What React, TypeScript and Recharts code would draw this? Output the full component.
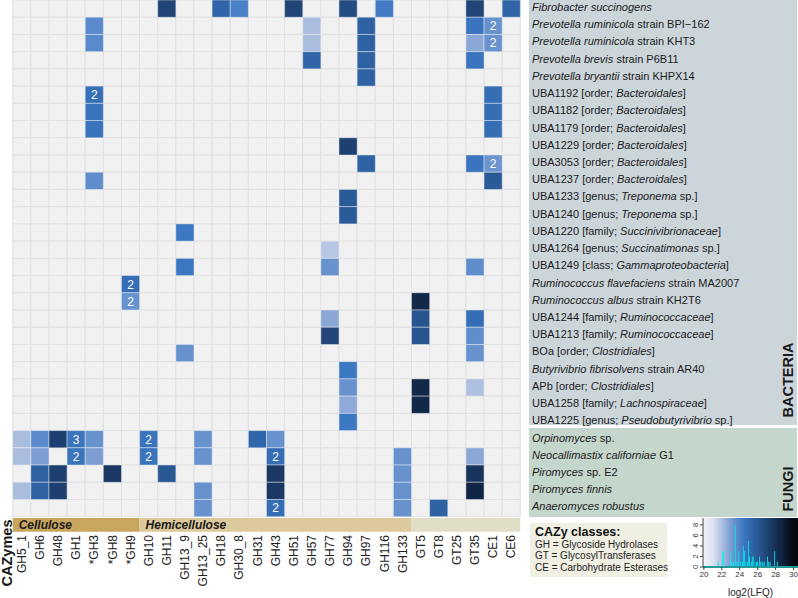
import React from "react";
import {
  ScatterChart,
  Scatter,
  XAxis,
  YAxis,
  ReferenceArea,
  ComposedChart,
  Bar,
  ReferenceLine,
} from "recharts";

const FONT = '"Liberation Sans", Arial, Helvetica, sans-serif';

const cazymes = [
  "GH5_1", "GH6", "GH48", "GH1", "*GH3", "*GH8", "*GH9", "GH10", "GH11", "GH13_9",
  "GH13_25", "GH18", "GH30_8", "GH31", "GH43", "GH51", "GH57", "GH77", "GH94", "GH97",
  "GH116", "GH133", "GT5", "GT8", "GT25", "GT35", "CE1", "CE6",
];

// label pieces: [text, italic]
type Piece = [string, boolean];
const bacteria: Piece[][] = [
  [["Fibrobacter succinogens", true]],
  [["Prevotella ruminicola", true], [" strain BPI\u2212162", false]],
  [["Prevotella ruminicola", true], [" strain KHT3", false]],
  [["Prevotella brevis", true], [" strain P6B11", false]],
  [["Prevotella bryantii", true], [" strain KHPX14", false]],
  [["UBA1192 [order; ", false], ["Bacteroidales", true], ["]", false]],
  [["UBA1182 [order; ", false], ["Bacteroidales", true], ["]", false]],
  [["UBA1179 [order; ", false], ["Bacteroidales", true], ["]", false]],
  [["UBA1229 [order; ", false], ["Bacteroidales", true], ["]", false]],
  [["UBA3053 [order; ", false], ["Bacteroidales", true], ["]", false]],
  [["UBA1237 [order; ", false], ["Bacteroidales", true], ["]", false]],
  [["UBA1233 [genus; ", false], ["Treponema", true], [" sp.]", false]],
  [["UBA1240 [genus; ", false], ["Treponema", true], [" sp.]", false]],
  [["UBA1220 [family; ", false], ["Succinivibrionaceae", true], ["]", false]],
  [["UBA1264 [genus; ", false], ["Succinatimonas", true], [" sp.]", false]],
  [["UBA1249 [class; ", false], ["Gammaproteobacteria", true], ["]", false]],
  [["Ruminococcus flavefaciens", true], [" strain MA2007", false]],
  [["Ruminococcus albus", true], [" strain KH2T6", false]],
  [["UBA1244 [family; ", false], ["Ruminococcaceae", true], ["]", false]],
  [["UBA1213 [family; ", false], ["Ruminococcaceae", true], ["]", false]],
  [["BOa [order; ", false], ["Clostridiales", true], ["]", false]],
  [["Butyrivibrio fibrisolvens", true], [" strain AR40", false]],
  [["APb [order; ", false], ["Clostridiales", true], ["]", false]],
  [["UBA1258 [family; ", false], ["Lachnospiraceae", true], ["]", false]],
  [["UBA1225 [genus; ", false], ["Pseudobutyrivibrio", true], [" sp.]", false]],
];
const fungi: Piece[][] = [
  [["Orpinomyces", true], [" sp.", false]],
  [["Neocallimastix californiae", true], [" G1", false]],
  [["Piromyces", true], [" sp. E2", false]],
  [["Piromyces finnis", true]],
  [["Anaeromyces robustus", true]],
];
const taxa = [...bacteria, ...fungi];

const substrateGroups = [
  { name: "Cellulose", from: "GH5_1", to: "*GH9", color: "#c9a65e" },
  { name: "Hemicellulose", from: "GH10", to: "GH133", color: "#dcc99c" },
  { name: "", from: "GT5", to: "CE6", color: "#e1dec7" },
];

// [row, CAZyme, log2(LFQ), proteins (if more than one)]
const cells: [number, string, number, number?][] = [
  [0, "GH11", 27.0], [0, "GH18", 25.3], [0, "GH30_8", 24.1], [0, "GH51", 27.0],
  [0, "GH94", 26.6], [0, "GH116", 24.3], [0, "GT35", 27.0], [0, "CE6", 25.3],
  [1, "*GH3", 23.7], [1, "GH57", 22.05], [1, "GH97", 25.5], [1, "GT35", 24.6], [1, "CE1", 23.4, 2],
  [2, "*GH3", 23.7], [2, "GH57", 22.05], [2, "GH97", 25.5], [2, "GT35", 22.7], [2, "CE1", 23.4, 2],
  [3, "GH57", 25.3], [3, "GH97", 25.5], [3, "GT35", 24.6],
  [4, "GH97", 25.5],
  [5, "*GH3", 24.8, 2], [5, "CE1", 24.9],
  [6, "*GH3", 24.6], [6, "CE1", 24.9],
  [7, "*GH3", 24.6], [7, "CE1", 24.9],
  [8, "GH94", 27.2],
  [9, "GH97", 25.5], [9, "GT35", 24.6], [9, "CE1", 23.3, 2],
  [10, "*GH3", 23.6], [10, "CE1", 25.9],
  [11, "GH94", 25.9],
  [12, "GH94", 25.9],
  [13, "GH13_9", 24.45],
  [14, "GH77", 21.8],
  [15, "GH13_9", 24.45], [15, "GH77", 23.4], [15, "GT35", 23.6],
  [16, "*GH9", 24.9, 2],
  [17, "*GH9", 23.4, 2], [17, "GT5", 28.4],
  [18, "GH77", 22.7], [18, "GT5", 26.2], [18, "GT35", 24.9],
  [19, "GH77", 27.0], [19, "GT5", 26.2], [19, "GT35", 23.6],
  [20, "GH13_9", 23.4], [20, "GT35", 23.4],
  [21, "GH94", 24.45],
  [22, "GH94", 23.4], [22, "GT5", 28.4], [22, "GT35", 22.0],
  [23, "GH94", 22.6], [23, "GT5", 28.4],
  [24, "GH94", 24.45],
  [25, "GH5_1", 22.05], [25, "GH6", 23.7], [25, "GH48", 27.2], [25, "GH1", 24.6, 3], [25, "*GH3", 23.4],
  [25, "GH10", 24.6, 2], [25, "GH13_25", 23.4], [25, "GH31", 25.3], [25, "GH43", 23.4],
  [26, "GH5_1", 22.05], [26, "GH6", 22.95], [26, "GH1", 24.6, 2], [26, "*GH3", 22.95], [26, "GH10", 24.6, 2],
  [26, "GH13_25", 23.4], [26, "GH43", 24.9, 2], [26, "GH133", 23.4], [26, "GT35", 22.7],
  [27, "GH6", 25.5], [27, "GH48", 27.2], [27, "*GH8", 27.6], [27, "GH11", 26.1], [27, "GH43", 27.6],
  [27, "GH133", 23.4], [27, "GT35", 27.8],
  [28, "GH5_1", 22.05], [28, "GH6", 25.5], [28, "GH48", 27.2], [28, "GH13_25", 23.4], [28, "GH43", 27.6],
  [28, "GH133", 23.4], [28, "GT35", 28.5],
  [29, "GH13_25", 23.4], [29, "GH43", 24.9, 2], [29, "GH133", 23.4], [29, "GT8", 25.5],
];

// colour key
const lfqStops = [20, 21, 22, 23, 23.7, 24.5, 25.5, 26.5, 27.5, 28.5, 30];
const lfqColors = ["#f3f3f9", "#dce2f0", "#aebfe0", "#7a9cd2", "#5a8acb", "#3a76c0", "#2e62a3", "#254f86", "#1b3a66", "#112646", "#04070e"];

// histogram in the colour key
const lfqBins = [21.6, 22.1, 22.2, 23.0, 23.1, 23.3, 23.5, 23.6, 23.8, 23.9, 24.1, 24.3, 24.4, 24.55, 24.7, 24.9, 25.0, 25.1, 25.3, 25.4, 25.5, 25.7, 25.9, 26.0, 26.2, 26.3, 26.5, 26.6, 26.8, 27.1, 27.2, 27.4, 27.9, 28.2];
const lfqCounts = [1, 3, 3, 3, 1, 1, 8, 1, 1, 3, 1, 1, 4, 3, 1, 1, 5, 2, 1, 2, 2, 1, 1, 1, 2, 1, 1, 1, 1, 2, 1, 1, 3, 1];

const classNotes = [
  "GH = Glycoside Hydrolases",
  "GT = GlycosylTransferases",
  "CE = Carbohydrate Esterases",
];

const hex = (c: string) => [1, 3, 5].map((i) => parseInt(c.slice(i, i + 2), 16));
function lfqColor(v: number) {
  let i = 0;
  while (i < lfqStops.length - 2 && v > lfqStops[i + 1]) i++;
  const t = Math.max(0, Math.min(1, (v - lfqStops[i]) / (lfqStops[i + 1] - lfqStops[i])));
  const a = hex(lfqColors[i]);
  const b = hex(lfqColors[i + 1]);
  return `rgb(${a.map((x, k) => Math.round(x + (b[k] - x) * t)).join(",")})`;
}

const W = 798;
const H = 598;
const PLOT_L = 12.7;
const PLOT_R = 520.3;
const PLOT_B = 516.7;
const CELL_W = (PLOT_R - PLOT_L) / cazymes.length;
const CELL_H = PLOT_B / taxa.length;

const bgData = taxa.flatMap((_, r) => cazymes.map((_, c) => ({ x: c, y: r })));
const heatData = cells.map(([r, c, v, n]) => ({ x: cazymes.indexOf(c), y: r, v, n }));
const histData = lfqBins.map((x, i) => ({ x, n: lfqCounts[i] }));

const BgCell = (p: any) => (
  <rect x={p.cx - CELL_W / 2} y={p.cy - CELL_H / 2} width={CELL_W} height={CELL_H} fill="#f1f1f1" stroke="#e1e1e1" strokeWidth={1} />
);

const HeatCell = (p: any) => (
  <g>
    <rect
      x={p.cx - CELL_W / 2}
      y={p.cy - CELL_H / 2}
      width={CELL_W}
      height={CELL_H}
      fill={lfqColor(p.payload.v)}
      stroke="#ffffff"
      strokeOpacity={0.4}
      strokeWidth={1}
    />
    {p.payload.n ? (
      <text x={p.cx} y={p.cy} dy="0.36em" textAnchor="middle" fill="#ffffff" fontSize={12} fontFamily={FONT}>
        {p.payload.n}
      </text>
    ) : null}
  </g>
);

const TaxonTick = (p: any) => {
  const parts = taxa[p.payload.value];
  if (!parts) return null;
  return (
    <text x={532} y={p.y - 1.5} dy="0.35em" fontSize={11} fontFamily={FONT} fill="#1a1a1a" style={{ whiteSpace: "pre" }}>
      {parts.map(([t, it], i) => (
        <tspan key={i} fontStyle={it ? "italic" : "normal"}>{t}</tspan>
      ))}
    </text>
  );
};

const CazyTick = (p: any) => {
  const y = 535;
  return (
    <text x={p.x} y={y} dy="0.35em" textAnchor="end" transform={`rotate(-90, ${p.x}, ${y})`} fontSize={12} fill="#222" fontFamily={FONT}>
      {cazymes[p.payload.value]}
    </text>
  );
};

const CountTick = (p: any) => (
  <text x={p.x - 3} y={p.y} dy="0.35em" textAnchor="middle" transform={`rotate(-90, ${p.x - 3}, ${p.y})`} fontSize={7.5} fill="#333" fontFamily={FONT}>
    {p.payload.value}
  </text>
);

export default function App() {
  const nRows = taxa.length;
  return (
    <div style={{ position: "absolute", left: 0, top: 0, width: W, height: H, background: "#ffffff", fontFamily: FONT }}>
      <div style={{ position: "absolute", left: 529, top: 0, width: 268, height: 425, background: "#ccd5da" }} />
      <div style={{ position: "absolute", left: 529, top: 428, width: 268, height: 89, background: "#c5d6cc" }} />

      <div style={{ position: "absolute", left: 0, top: 0 }}>
        <ScatterChart width={W} height={H} margin={{ top: 0, right: 0, bottom: 0, left: PLOT_L }}>
          <XAxis
            type="number"
            dataKey="x"
            domain={[-0.5, cazymes.length - 0.5]}
            ticks={cazymes.map((_, i) => i)}
            interval={0}
            tick={<CazyTick />}
            axisLine={false}
            tickLine={false}
            height={H - PLOT_B}
          />
          <YAxis
            type="number"
            dataKey="y"
            orientation="right"
            reversed
            domain={[-0.5, nRows - 0.5]}
            ticks={taxa.map((_, i) => i)}
            interval={0}
            tick={<TaxonTick />}
            axisLine={false}
            tickLine={false}
            width={W - PLOT_R}
          />
          <Scatter data={bgData} shape={<BgCell />} isAnimationActive={false} />
          <Scatter data={heatData} shape={<HeatCell />} isAnimationActive={false} />
          {substrateGroups.map((g) => (
            <ReferenceArea
              key={g.from}
              x1={cazymes.indexOf(g.from) - 0.5}
              x2={cazymes.indexOf(g.to) + 0.5}
              y1={nRows - 0.42}
              y2={nRows + 0.37}
              ifOverflow="visible"
              fill={g.color}
              fillOpacity={1}
              stroke="none"
              label={{
                value: g.name,
                position: "insideLeft",
                offset: 6,
                fontSize: 12,
                fontWeight: 700,
                fontStyle: "italic",
                fill: "#1a1a1a",
                fontFamily: FONT,
              }}
            />
          ))}
        </ScatterChart>
      </div>

      <svg width={W} height={H} style={{ position: "absolute", left: 0, top: 0, pointerEvents: "none" }}>
        <text x={788} y={380} dy="0.35em" textAnchor="middle" transform="rotate(-90, 788, 380)" fontSize={14.5} fontWeight={700} fill="#1a1a1a" fontFamily={FONT}>
          BACTERIA
        </text>
        <text x={788} y={489} dy="0.35em" textAnchor="middle" transform="rotate(-90, 788, 489)" fontSize={14.5} fontWeight={700} fill="#1a1a1a" fontFamily={FONT}>
          FUNGI
        </text>
        <text x={7} y={553} dy="0.35em" textAnchor="middle" transform="rotate(-90, 7, 553)" fontSize={14.5} fontWeight={700} fill="#1a1a1a" fontFamily={FONT}>
          CAZymes
        </text>
        <rect x={530} y={523} width={137} height={54} fill="#efefe3" />
        <text x={535} y={536} fontSize={12.5} fontWeight={700} fill="#111" fontFamily={FONT}>
          CAZy classes:
        </text>
        {classNotes.map((t, i) => (
          <text key={t} x={535} y={547.5 + i * 11.5} fontSize={10} fill="#222" fontFamily={FONT}>
            {t}
          </text>
        ))}
      </svg>

      <div style={{ position: "absolute", left: 690, top: 515 }}>
        <ComposedChart width={108} height={83} data={histData} margin={{ top: 3, right: 0, bottom: 0, left: 0 }}>
          <defs>
            <linearGradient id="lfqGrad" x1="0" y1="0" x2="1" y2="0">
              {lfqStops.map((s, i) => (
                <stop key={s} offset={`${((s - 19.9) / 10.6) * 100}%`} stopColor={lfqColors[i]} />
              ))}
            </linearGradient>
          </defs>
          <XAxis
            type="number"
            dataKey="x"
            domain={[19.9, 30.5]}
            allowDataOverflow
            ticks={[20, 22, 24, 26, 28, 30]}
            interval={0}
            tick={{ fontSize: 8, fill: "#333", fontFamily: FONT }}
            tickSize={3}
            tickMargin={1}
            stroke="#444"
            height={31}
            label={{ value: "log2(LFQ)", position: "insideBottom", offset: 2, fontSize: 10, fill: "#222", fontFamily: FONT }}
          />
          <YAxis
            type="number"
            domain={[0, 9.3]}
            allowDataOverflow
            ticks={[0, 2, 4, 6, 8]}
            interval={0}
            tick={<CountTick />}
            tickSize={3}
            stroke="#444"
            width={13}
          />
          <ReferenceArea x1={19.9} x2={30.5} y1={0} y2={9.3} fill="url(#lfqGrad)" fillOpacity={1} stroke="none" />
          <ReferenceLine y={0} stroke="#00f0f0" strokeWidth={2} />
          <Bar dataKey="n" fill="#00f0f0" barSize={2} isAnimationActive={false} />
        </ComposedChart>
      </div>
    </div>
  );
}
